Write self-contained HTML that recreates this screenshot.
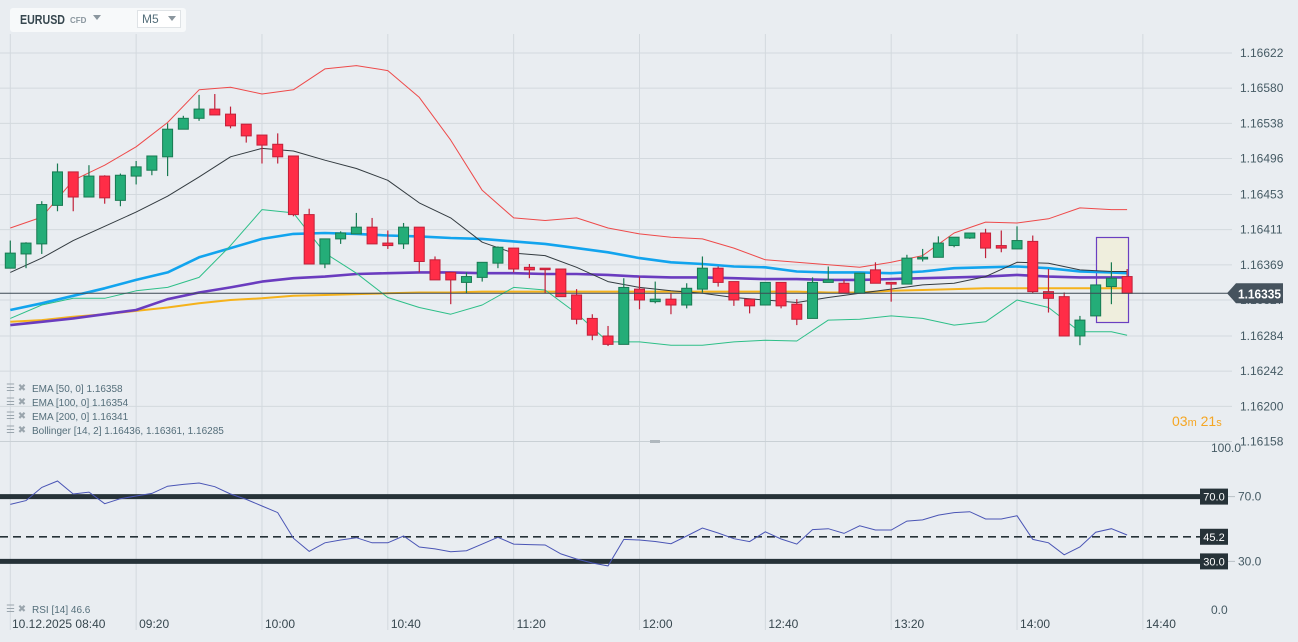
<!DOCTYPE html>
<html><head><meta charset="utf-8">
<style>
html,body{margin:0;padding:0;background:#e9edf1;width:1298px;height:642px;overflow:hidden;font-family:"Liberation Sans",sans-serif;}
svg{display:block}
</style></head>
<body>
<svg id="chart" width="1298" height="642" xmlns="http://www.w3.org/2000/svg" font-family="Liberation Sans, sans-serif">
<rect x="0" y="0" width="1298" height="642" fill="#e9edf1"/>
<defs><clipPath id="mainClip"><rect x="0" y="34" width="1232" height="406"/></clipPath>
<clipPath id="rsiClip"><rect x="0" y="444" width="1200" height="180"/></clipPath></defs>
<g id="grid"></g>
<g id="main" clip-path="url(#mainClip)"></g>
<g id="rsi" clip-path="url(#rsiClip)"></g>
<g id="axes"></g>
<!-- header -->
<g>
<rect x="10" y="8" width="176" height="24" rx="3" fill="#f7f9fa"/>
<text x="20" y="24" font-size="13" font-weight="bold" fill="#37474f" textLength="45" lengthAdjust="spacingAndGlyphs">EURUSD</text>
<text x="70" y="23" font-size="8" font-weight="bold" fill="#8a969e">CFD</text>
<path d="M93 15 L101 15 L97 20 Z" fill="#8a969e"/>
<rect x="137.5" y="10.5" width="43" height="17" fill="#fff" stroke="#dfe3e6"/>
<text x="142" y="23" font-size="12" fill="#546e7a">M5</text>
<path d="M168 16 L176 16 L172 21 Z" fill="#8a969e"/>
</g>
<!-- legend -->
<g font-size="10" fill="#546e7a">
<g><text x="6" y="391" fill="#9aa5ad">☰ ✖</text><text x="32" y="392">EMA [50,  0] 1.16358</text></g>
<g><text x="6" y="405" fill="#9aa5ad">☰ ✖</text><text x="32" y="406">EMA [100,  0] 1.16354</text></g>
<g><text x="6" y="419" fill="#9aa5ad">☰ ✖</text><text x="32" y="420">EMA [200,  0] 1.16341</text></g>
<g><text x="6" y="433" fill="#9aa5ad">☰ ✖</text><text x="32" y="434">Bollinger  [14, 2] 1.16436,  1.16361,  1.16285</text></g>
<g><text x="6" y="612" fill="#9aa5ad">☰ ✖</text><text x="32" y="613">RSI [14] 46.6</text></g>
</g>
<text x="1172" y="426" font-size="14" fill="#f5a623">03<tspan font-size="11">m</tspan> 21<tspan font-size="11">s</tspan></text>
<line x1="0" y1="441.5" x2="1232" y2="441.5" stroke="#c9d0d5"/>
<rect x="650" y="440" width="10" height="3" fill="#b0b8be"/>
</svg>
<script>
const NS="http://www.w3.org/2000/svg";
// ---- price data (M5 candles) ----
const opens=[1.16365,1.16382,1.16394,1.16440,1.16480,1.16450,1.16475,1.16446,1.16475,1.16482,1.16498,1.16531,1.16544,1.16555,1.16549,1.16537,1.16524,1.16513,1.16499,1.16429,1.16370,1.16400,1.16406,1.16414,1.16395,1.16394,1.16414,1.16375,1.16360,1.16348,1.16354,1.16371,1.16389,1.16366,1.16365,1.16364,1.16333,1.16305,1.16284,1.16274,1.16340,1.16325,1.16328,1.16321,1.16340,1.16365,1.16349,1.16328,1.16321,1.16348,1.16322,1.16305,1.16348,1.16347,1.16335,1.16363,1.16348,1.16346,1.16376,1.16378,1.16392,1.16401,1.16407,1.16392,1.16388,1.16397,1.16337,1.16331,1.16284,1.16308,1.16343,1.16355];
const closes=[1.16383,1.16395,1.16441,1.16480,1.16450,1.16475,1.16449,1.16476,1.16486,1.16499,1.16531,1.16544,1.16555,1.16548,1.16535,1.16523,1.16512,1.16498,1.16429,1.16370,1.16400,1.16407,1.16414,1.16394,1.16392,1.16414,1.16373,1.16351,1.16351,1.16355,1.16372,1.16390,1.16364,1.16363,1.16364,1.16331,1.16304,1.16285,1.16274,1.16342,1.16327,1.16328,1.16321,1.16341,1.16365,1.16348,1.16327,1.16320,1.16348,1.16320,1.16304,1.16348,1.16351,1.16335,1.16359,1.16347,1.16346,1.16377,1.16378,1.16395,1.16402,1.16407,1.16389,1.16389,1.16398,1.16337,1.16329,1.16284,1.16303,1.16345,1.16353,1.16335];
const highs=[1.16398,1.16396,1.16445,1.16490,1.16480,1.16488,1.16476,1.16478,1.16493,1.16499,1.16538,1.16547,1.16572,1.16573,1.16558,1.16537,1.16524,1.16526,1.16499,1.16436,1.16400,1.16409,1.16431,1.16425,1.16410,1.16419,1.16414,1.16379,1.16360,1.16360,1.16372,1.16391,1.16389,1.16370,1.16365,1.16364,1.16340,1.16310,1.16296,1.16353,1.16355,1.16349,1.16335,1.16347,1.16379,1.16367,1.16349,1.16328,1.16348,1.16348,1.16328,1.16354,1.16367,1.16351,1.16359,1.16372,1.16348,1.16381,1.16388,1.16403,1.16402,1.16407,1.16412,1.16410,1.16415,1.16404,1.16364,1.16336,1.16308,1.16345,1.16372,1.16364];
const lows=[1.16365,1.16365,1.16382,1.16433,1.16433,1.16450,1.16442,1.16439,1.16465,1.16476,1.16475,1.16531,1.16541,1.16548,1.16532,1.16515,1.16490,1.16490,1.16427,1.16370,1.16365,1.16394,1.16406,1.16394,1.16388,1.16388,1.16360,1.16351,1.16322,1.16335,1.16349,1.16365,1.16360,1.16353,1.16335,1.16331,1.16298,1.16279,1.16272,1.16274,1.16316,1.16323,1.16310,1.16317,1.16336,1.16343,1.16320,1.16311,1.16321,1.16317,1.16297,1.16305,1.16348,1.16335,1.16335,1.16347,1.16325,1.16346,1.16373,1.16378,1.16390,1.16400,1.16377,1.16384,1.16388,1.16335,1.16312,1.16284,1.16273,1.16308,1.16322,1.16335];
// indicator samples (candle indices)
const indIdx=[0,2,4,6,8,10,12,14,16,18,20,22,24,26,28,30,32,34,36,38,40,42,44,46,48,50,52,54,56,58,60,62,64,66,68,70,71];
const bbUpper=[1.16413,1.16426,1.16470,1.16488,1.16510,1.16539,1.16578,1.16581,1.16573,1.16578,1.16603,1.16607,1.16601,1.16569,1.16518,1.16458,1.16425,1.16422,1.16425,1.16413,1.16406,1.16402,1.16400,1.16389,1.16375,1.16372,1.16369,1.16366,1.16372,1.16380,1.16407,1.16420,1.16419,1.16424,1.16437,1.16435,1.16435];
const bbMid=[1.16360,1.16377,1.16398,1.16415,1.16432,1.16451,1.16474,1.16498,1.16508,1.16505,1.16494,1.16484,1.16470,1.16443,1.16425,1.16396,1.16383,1.16380,1.16366,1.16349,1.16342,1.16338,1.16335,1.16330,1.16327,1.16324,1.16330,1.16335,1.16340,1.16345,1.16347,1.16355,1.16372,1.16371,1.16363,1.16361,1.16361];
const bbLower=[1.16305,1.16321,1.16329,1.16329,1.16338,1.16342,1.16354,1.16392,1.16435,1.16431,1.16383,1.16359,1.16330,1.16318,1.16310,1.16321,1.16342,1.16339,1.16311,1.16277,1.16277,1.16273,1.16273,1.16277,1.16279,1.16278,1.16303,1.16304,1.16308,1.16305,1.16297,1.16301,1.16327,1.16318,1.16289,1.16289,1.16285];
const ema50=[1.16315,1.16323,1.16332,1.16341,1.16351,1.16360,1.16378,1.16389,1.16400,1.16406,1.16407,1.16406,1.16404,1.16403,1.16401,1.16400,1.16397,1.16394,1.16389,1.16384,1.16377,1.16372,1.16370,1.16367,1.16366,1.16361,1.16360,1.16360,1.16359,1.16361,1.16365,1.16366,1.16367,1.16365,1.16361,1.16360,1.16359];
const ema100=[1.16297,1.16301,1.16305,1.16310,1.16315,1.16328,1.16336,1.16342,1.16349,1.16353,1.16355,1.16358,1.16359,1.16360,1.16360,1.16359,1.16359,1.16358,1.16358,1.16357,1.16355,1.16354,1.16354,1.16353,1.16352,1.16352,1.16351,1.16351,1.16352,1.16353,1.16354,1.16355,1.16357,1.16355,1.16354,1.16354,1.16354];
const ema200=[1.16301,1.16303,1.16307,1.16310,1.16314,1.16318,1.16323,1.16327,1.16329,1.16332,1.16333,1.16334,1.16335,1.16336,1.16336,1.16337,1.16337,1.16337,1.16337,1.16337,1.16337,1.16337,1.16337,1.16337,1.16337,1.16337,1.16336,1.16336,1.16338,1.16339,1.16340,1.16341,1.16341,1.16341,1.16341,1.16341,1.16341];
const rsiVals=[65.2,67.5,75.7,79.6,71.6,72.8,65.6,68.7,70.4,72.0,76.4,77.5,78.4,76.1,71.6,68.3,64.2,60.1,44.3,36.2,41.5,43.2,44.6,41.5,41.5,45.7,38.9,37.7,36.0,36.6,40.7,44.9,40.7,40.4,40.1,34.6,31.5,29.0,27.2,43.6,43.2,42.3,40.9,45.7,50.6,47.5,44.0,42.2,48.3,43.8,40.7,49.6,50.2,47.3,52.0,49.4,49.4,54.9,55.6,58.6,60.1,60.7,56.2,56.2,58.2,43.6,41.5,34.1,38.9,48.0,50.2,46.3];
const priceTicks=[1.16622,1.16580,1.16538,1.16496,1.16453,1.16411,1.16369,1.16327,1.16284,1.16242,1.16200,1.16158];
const timeTicks=["10.12.2025 08:40","09:20","10:00","10:40","11:20","12:00","12:40","13:20","14:00","14:40"];
const rsiLevels=[70,30];
const rsiEdgeTicks=[100,0];
const lastPrice=1.16335;
const rsiMid=45.2;

// ---- scales ----
const xOf=i=>10.3+i*15.73;
const yOf=p=>53+(1.16622-p)*83728;
const rY=v=>610-v*1.62;

function el(tag,attrs,parent){const e=document.createElementNS(NS,tag);for(const k in attrs)e.setAttribute(k,attrs[k]);parent.appendChild(e);return e;}
const grid=document.getElementById('grid'),main=document.getElementById('main'),rsi=document.getElementById('rsi'),axes=document.getElementById('axes');

// grid
priceTicks.forEach(p=>{const l=el('line',{x1:0,x2:1232,y1:yOf(p),y2:yOf(p),stroke:'#d3d9de','stroke-width':1},grid);

});
timeTicks.forEach((t,k)=>{const x=xOf(k*8);const l=el('line',{x1:x,x2:x,y1:34,y2:630,stroke:'#d3d9de','stroke-width':1},grid);


const tx=el('text',{x:k===0?12:x+3,y:628,'font-size':12,fill:'#37474f'},axes);tx.textContent=t;

});
priceTicks.forEach(p=>{const tx=el('text',{x:1240,y:yOf(p)+4,'font-size':12,fill:'#455a64'},axes);tx.textContent=p.toFixed(5);

});

// highlight box
const hb=el('rect',{x:1096.5,y:237.5,width:32,height:85,fill:'#efeedd',stroke:'#6a3fc1','stroke-width':1.2},main);



function line(arr,color,w,name){const pts=indIdx.map((i,k)=>xOf(i).toFixed(1)+','+yOf(arr[k]).toFixed(1)).join(' ');
const pl=el('polyline',{points:pts,fill:'none',stroke:color,'stroke-width':w,'stroke-linejoin':'round'},main);

}
line(ema200,'#f5b21b',2,'ema-200-line');
line(ema100,'#6a3cbf',2.6,'ema-100-line');
line(ema50,'#12a4ee',2.6,'ema-50-line');
line(bbUpper,'#ee4a4a',1,'bollinger-upper');
line(bbMid,'#333b40',1,'bollinger-middle');
line(bbLower,'#2dbf88',1,'bollinger-lower');

// candles
opens.forEach((o,i)=>{const c=closes[i],x=xOf(i),up=c>=o;
const fill=up?'#24ad78':'#ff2d47',stroke=up?'#187a52':'#c0213a';
const g=el('g',{},main);


el('line',{x1:x,x2:x,y1:yOf(Math.max(highs[i],o,c)),y2:yOf(Math.min(lows[i],o,c)),stroke:stroke,'stroke-width':1.2},g);
const top=yOf(Math.max(o,c)),bot=yOf(Math.min(o,c));
el('rect',{x:x-5,y:top,width:10,height:Math.max(1.5,bot-top),fill:fill,stroke:stroke,'stroke-width':1},g);});

// last price line + tag
const lp=el('line',{x1:0,x2:1232,y1:yOf(lastPrice),y2:yOf(lastPrice),stroke:'#3d4a54','stroke-width':1},axes);


const ly=yOf(lastPrice);
const tag=el('path',{d:`M1227 ${ly} L1236 ${ly-10} L1283 ${ly-10} L1283 ${ly+10} L1236 ${ly+10} Z`,fill:'#46535e'},axes);


const tt=el('text',{x:1238,y:ly+5,'font-size':13,'font-weight':'bold',fill:'#fff',textLength:43,lengthAdjust:'spacingAndGlyphs'},axes);tt.textContent=lastPrice.toFixed(5);



// RSI
rsiLevels.forEach(v=>{const l=el('line',{x1:0,x2:1200,y1:rY(v),y2:rY(v),stroke:'#263238','stroke-width':5},rsi);

});
const dl=el('line',{x1:0,x2:1200,y1:rY(rsiMid),y2:rY(rsiMid),stroke:'#263238','stroke-width':1.6,'stroke-dasharray':'8,5'},rsi);


const rl=el('polyline',{points:rsiVals.map((v,i)=>xOf(i).toFixed(1)+','+rY(v).toFixed(1)).join(' '),fill:'none',stroke:'#4a55b5','stroke-width':1},rsi);


[70,rsiMid,30].forEach(v=>{const y=rY(v);
const r=el('rect',{x:1200,y:y-8,width:28,height:16,fill:'#263238'},axes);


const t=el('text',{x:1214,y:y+4,'font-size':11,fill:'#fff','text-anchor':'middle'},axes);t.textContent=v.toFixed(1);

});
rsiLevels.forEach(v=>{const y=rY(v);
const tk=el('line',{x1:1228,x2:1235,y1:y,y2:y,stroke:'#b8c0c6'},axes);


const t=el('text',{x:1238,y:y+4,'font-size':12,fill:'#455a64'},axes);t.textContent=v.toFixed(1);

});
rsiEdgeTicks.forEach(v=>{const t=el('text',{x:1211,y:rY(v)+4,'font-size':12,fill:'#455a64'},axes);t.textContent=v.toFixed(1);

});
</script>
</body></html>
